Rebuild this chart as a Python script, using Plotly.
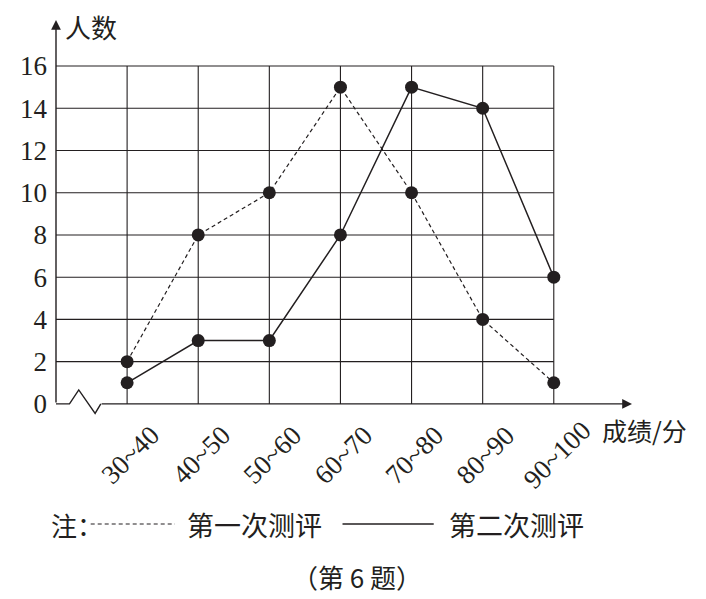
import plotly.graph_objects as go

categories = ["30~40", "40~50", "50~60", "60~70", "70~80", "80~90", "90~100"]
first_test = [2, 8, 10, 15, 10, 4, 1]
second_test = [1, 3, 3, 8, 15, 14, 6]
y_ticks = [0, 2, 4, 6, 8, 10, 12, 14, 16]

# the page has an 8px body margin, so the figure is drawn 8px smaller
OFF = 8
W, H = 706 - OFF, 599 - OFF
L, R, T, B = 51 - OFF, 74, 20 - OFF, 174
X_MAX, Y_MIN, Y_MAX = 8.1, -1, 18.18
SERIF = "Liberation Serif, Times New Roman, serif"
CJK = "Noto Sans CJK SC"
INK = "#231f20"

pos = list(range(1, len(categories) + 1))


def px(x, y):
    # page pixel -> paper coords
    x, y = x - OFF, y - OFF
    return (x - L) / (W - L - R), (H - B - y) / (H - T - B)


fig = go.Figure()

fig.add_trace(go.Scatter(
    x=pos, y=first_test, mode="lines+markers", name="第一次测评",
    line=dict(color=INK, width=1.2, dash="4px,3px"),
    marker=dict(color=INK, size=13), cliponaxis=False,
))
fig.add_trace(go.Scatter(
    x=pos, y=second_test, mode="lines+markers", name="第二次测评",
    line=dict(color=INK, width=1.5),
    marker=dict(color=INK, size=13), cliponaxis=False,
))

shapes = []
# grid
for v in y_ticks[1:]:
    shapes.append(dict(type="line", xref="x", yref="y", x0=0, x1=pos[-1], y0=v, y1=v,
                       line=dict(color=INK, width=1.1), layer="below"))
for p in pos:
    shapes.append(dict(type="line", xref="x", yref="y", x0=p, x1=p, y0=0, y1=y_ticks[-1],
                       line=dict(color=INK, width=1.1), layer="below"))
# x axis with break mark
shapes.append(dict(type="path", xref="x", yref="y",
                   path="M0,0 L0.19,0 L0.32,0.66 L0.55,-0.45 L0.63,0",
                   line=dict(color=INK, width=1.4)))

annotations = []
# axis arrows
annotations.append(dict(x=X_MAX, y=0, ax=0.62, ay=0, xref="x", yref="y", axref="x", ayref="y",
                        text="", showarrow=True, arrowhead=2, arrowsize=1.4, arrowwidth=1.4,
                        arrowcolor=INK))
annotations.append(dict(x=0, y=Y_MAX, ax=0, ay=0, xref="x", yref="y", axref="x", ayref="y",
                        text="", showarrow=True, arrowhead=2, arrowsize=1.4, arrowwidth=1.4,
                        arrowcolor=INK))
# category labels
for p, c in zip(pos, categories):
    annotations.append(dict(x=p, y=0, xref="x", yref="y", text=c, showarrow=False,
                            textangle=-45, xshift=3, yshift=-51,
                            font=dict(family=SERIF, size=27, color=INK)))


def label(text, x, y, size=25, anchor="left", family=CJK):
    xp, yp = px(x, y)
    annotations.append(dict(x=xp, y=yp, xref="paper", yref="paper", text=text, showarrow=False,
                            xanchor=anchor, yanchor="middle",
                            font=dict(family=family, size=size, color=INK)))


label("人数", 58, 27, size=26)
label("成绩/分", 600, 430, size=25)
label("注：", 44, 524, size=26)
label("第一次测评", 181, 524, size=27)
label("第二次测评", 445, 524, size=27)
label("（第 6 题）", 355, 576, size=26, anchor="center")

# legend line samples
x0, y0 = px(86, 524)
x1, _ = px(171, 524)
shapes.append(dict(type="line", xref="paper", yref="paper", x0=x0, x1=x1, y0=y0, y1=y0,
                   line=dict(color=INK, width=1.2, dash="4px,3px")))
x0, y0 = px(340, 524)
x1, _ = px(432, 524)
shapes.append(dict(type="line", xref="paper", yref="paper", x0=x0, x1=x1, y0=y0, y1=y0,
                   line=dict(color=INK, width=1.5)))

fig.update_layout(
    width=W, height=H,
    margin=dict(l=L, r=R, t=T, b=B),
    paper_bgcolor="white", plot_bgcolor="white",
    showlegend=False,
    shapes=shapes, annotations=annotations,
    xaxis=dict(range=[0, X_MAX], showgrid=False, zeroline=False, showline=False,
               showticklabels=False, ticks=""),
    yaxis=dict(range=[Y_MIN, Y_MAX], showgrid=False, zeroline=False, showline=False,
               tickvals=y_ticks, ticks="", ticklabelstandoff=8,
               tickfont=dict(family=SERIF, size=27, color=INK)),
)

fig.write_html("out.html")
